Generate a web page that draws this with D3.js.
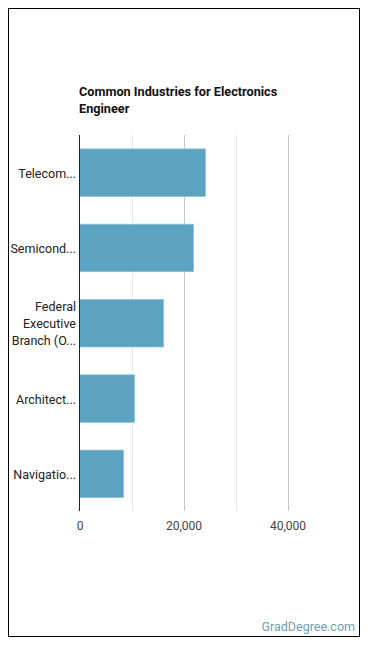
<!DOCTYPE html>
<html><head><meta charset="utf-8">
<script src="https://cdn.jsdelivr.net/npm/d3@7"></script>
<style>
html,body{margin:0;padding:0;background:#fff;}
svg{display:block;font-family:Roboto,"Noto Sans",sans-serif;}
</style></head>
<body>
<svg id="c" width="370" height="648"></svg>
<script>
const titleLines = ["Common Industries for Electronics", "Engineer"];
const categories = ["Telecom...", "Semicond...", "Federal Executive Branch (O...", "Architect...", "Navigatio..."];
const labelLines = [["Telecom..."], ["Semicond..."], ["Federal", "Executive", "Branch (O..."], ["Architect..."], ["Navigatio..."]];
const values = [24230, 21900, 16150, 10580, 8460];
const tickValues = [0, 20000, 40000];
const gridValues = [10000, 20000, 30000, 40000];
const sourceText = "GradDegree.com";

const svg = d3.select("#c");
svg.append("rect").attr("x", 8.5).attr("y", 8.5).attr("width", 351).attr("height", 628)
  .attr("fill", "#fff").attr("stroke", "#000").attr("stroke-width", 1);

const t = svg.append("text").attr("x", 79).attr("y", 96).attr("font-size", 12.7)
  .attr("font-weight", "bold").attr("fill", "#111");
titleLines.forEach((l, i) => t.append("tspan").attr("x", 79).attr("dy", i ? 17 : 0).text(l));

const x = d3.scaleLinear().domain([0, 50000]).range([79.5, 339.5]);
const y = d3.scaleBand().domain(categories).range([135, 511.5]).paddingInner(0.37).paddingOuter(0.185);

svg.append("g").selectAll("line").data(gridValues).join("line")
  .attr("x1", d => Math.round(x(d)) + 0.5).attr("x2", d => Math.round(x(d)) + 0.5)
  .attr("y1", 135).attr("y2", 511)
  .attr("stroke", d => d % 20000 === 0 ? "#c8c8c8" : "#e6e6e6").attr("stroke-width", 1);

svg.append("g").selectAll("rect").data(values).join("rect")
  .attr("x", x(0)).attr("y", (d, i) => y(categories[i]))
  .attr("width", d => x(d) - x(0)).attr("height", y.bandwidth())
  .attr("fill", "#5ba3c1").attr("stroke", "#8cc0d6").attr("stroke-width", 0.8);

svg.append("line").attr("x1", 79.5).attr("x2", 79.5).attr("y1", 135).attr("y2", 511)
  .attr("stroke", "#222").attr("stroke-width", 1);

const xAxis = svg.append("g").attr("transform", "translate(0,511)")
  .call(d3.axisBottom(x).tickValues(tickValues).tickSize(0).tickPadding(10).tickFormat(d3.format(",")));
xAxis.select(".domain").remove();
xAxis.selectAll("text").attr("font-size", 12).attr("fill", "#444").attr("font-family", "Roboto,sans-serif");

const lg = svg.append("g");
labelLines.forEach((lines, i) => {
  const cy = y(categories[i]) + y.bandwidth() / 2;
  const lh = 17;
  const start = cy - (lines.length - 1) * lh / 2;
  const tx = lg.append("text").attr("text-anchor", "end").attr("font-size", 12.5).attr("fill", "#222")
    .attr("dominant-baseline", "central");
  lines.forEach((l, j) => tx.append("tspan").attr("x", 76).attr("y", start + j * lh).text(l));
});

svg.append("text").attr("x", 355).attr("y", 631).attr("text-anchor", "end")
  .attr("font-size", 12.5).attr("fill", "#6d9fba").text(sourceText);
</script>
</body></html>
